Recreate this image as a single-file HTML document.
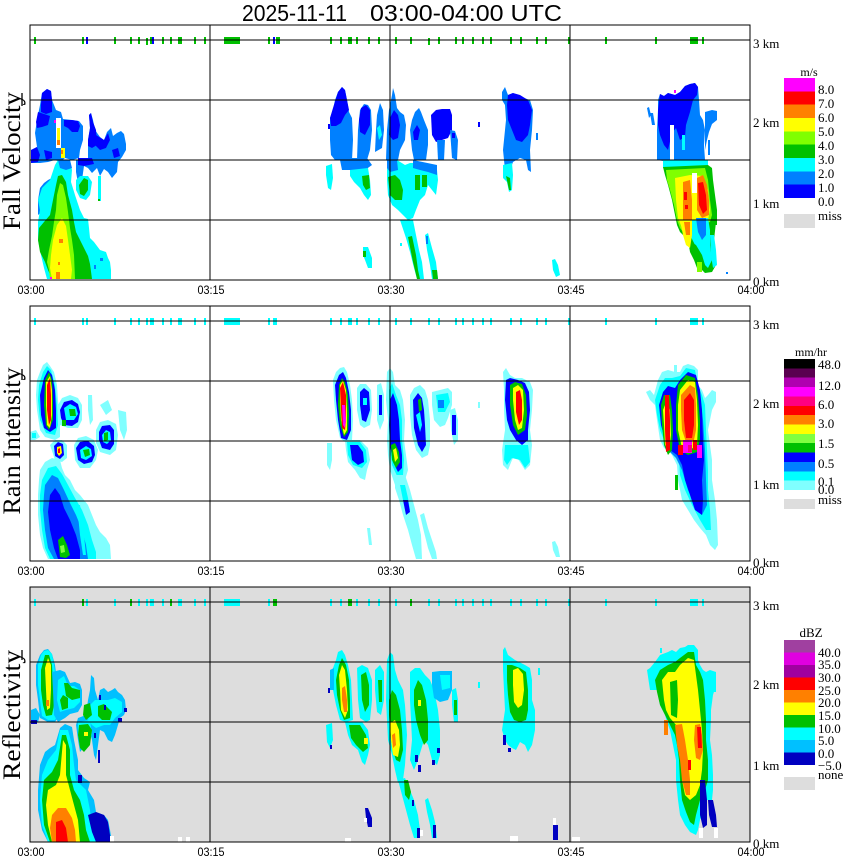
<!DOCTYPE html>
<html><head><meta charset="utf-8"><style>
html,body{margin:0;padding:0;background:#fff;}
svg{display:block;}
.s{font-family:"Liberation Serif",serif;}
.a{font-family:"Liberation Sans",sans-serif;}
</style></head><body>
<svg width="850" height="868" viewBox="0 0 850 868" xmlns="http://www.w3.org/2000/svg">
<rect width="850" height="868" fill="#fff"/>
<rect x="30" y="587" width="720" height="255" fill="#dddddd"/>

<!-- ================= PANEL 1 DATA (Fall Velocity) ================= -->
<g>
<polygon fill="#0080ff" points="31,150 37,147 35,133 37,120 40,105 42,93 47,89 51,91 52,100 56,110 61,112 63,119 72,120 79,121 83,126 83,140 80,150 79,158 72,160 65,158 60,162 55,160 48,162 40,163 31,163"/>
<polygon fill="#0080ff" points="88,160 88,140 90,128 89,115 91,113 93,120 95,130 100,137 104,140 107,132 111,128 113,136 117,133 121,131 124,134 126,144 126,150 122,157 118,162 117,172 112,178 108,172 104,169 100,176 97,168 92,173 88,168 84,166 82,180 78,183 76,172 76,160"/>
<polygon fill="#0000ff" points="41,104 42,93 47,89 51,91 52,100 52,112 46,114 41,112"/>
<polygon fill="#0000ff" points="36,122 38,112 44,114 50,116 48,125 42,127 37,128"/>
<polygon fill="#0000ff" points="64,120 72,120 78,121 80,126 78,132 72,132 68,128 64,126"/>
<polygon fill="#0000ff" points="88,140 90,128 89,115 91,113 93,122 96,130 97,145 92,148 88,146"/>
<polygon fill="#0000ff" points="96,135 104,140 108,133 110,140 106,148 100,150 96,146"/>
<polygon fill="#0000ff" points="31,150 37,147 40,155 38,162 31,163"/>
<polygon fill="#0000ff" points="44,150 52,152 52,158 46,160"/>
<polygon fill="#0000ff" points="78,158 92,158 94,164 84,166 78,165"/>
<polygon fill="#0000ff" points="112,150 118,148 120,156 114,158"/>
<rect x="56" y="118" width="5" height="30" fill="#fff"/>
<rect x="57" y="128" width="3" height="12" fill="#ffff00"/>
<rect x="57" y="140" width="3" height="5" fill="#ff8000"/>
<rect x="54" y="120" width="2" height="3" fill="#ff00ff"/>
<rect x="61" y="148" width="4" height="10" fill="#ffff00"/>
<rect x="61" y="150" width="2" height="4" fill="#ff8000"/>
<polygon fill="#0080ff" points="38,200 40,188 44,183 48,180 52,178 56,180 54,200 44,210 38,215"/>
<polygon fill="#00ffff" points="50,180 55,165 58,160 70,160 72,170 71,182 75,195 80,210 84,218 88,219 89,228 90,238 94,242 100,250 106,252 108,258 110,262 111,270 111,279 47,279 44,268 41,255 38,240 38,222 40,210 38,200 42,188"/>
<polygon fill="#0080ff" points="58,160 70,160 72,168 66,170 60,168"/>
<polygon fill="#00c000" points="53,200 56,185 58,176 62,175 66,182 68,195 72,210 74,222 76,232 80,240 84,248 88,256 90,264 92,279 52,279 48,270 45,262 40,252 38,240 39,228 44,222 50,215"/>
<polygon fill="#80ff00" points="57,195 60,183 63,185 66,198 68,212 70,228 72,240 74,255 75,279 50,279 49,270 47,262 49,250 52,236 54,222 56,210"/>
<polygon fill="#ffff00" points="57,225 62,218 66,226 68,240 70,255 72,270 71,279 52,279 50,268 51,255 53,240"/>
<rect x="59" y="239" width="4" height="4" fill="#ff8000"/>
<rect x="56" y="272" width="4" height="7" fill="#ff8000"/>
<rect x="58" y="262" width="2" height="3" fill="#ff8000"/>
<rect x="50" y="277" width="2" height="2" fill="#ff00ff"/>
<rect x="94" y="265" width="2" height="4" fill="#0080ff"/>
<rect x="100" y="258" width="3" height="3" fill="#0080ff"/>
<polygon fill="#00ffff" points="76,180 80,176 88,176 92,182 90,195 86,200 80,198 76,190"/>
<polygon fill="#00c000" points="79,185 84,178 88,180 88,190 84,196 80,194"/>
<rect x="98" y="176" width="3" height="25" fill="#00ffff"/>
<rect x="98" y="199" width="2" height="2" fill="#00c000"/>

<polygon fill="#0080ff" points="330,140 330,118 333,110 335,100 338,92 342,87 345,90 347,100 349,112 352,118 353,140 352,160 350,170 342,170 340,160 335,160 331,155"/>
<polygon fill="#0000ff" points="330,118 333,108 338,92 342,87 345,90 347,100 349,110 345,115 341,123 336,126 331,126"/>
<rect x="328" y="124" width="2" height="5" fill="#0000ff"/>
<polygon fill="#0080ff" points="357,160 358,130 360,110 364,104 368,105 371,110 372,130 370,150 367,160"/>
<polygon fill="#0000ff" points="359,120 361,108 366,105 370,110 370,125 365,135 360,132"/>
<polygon fill="#0080ff" points="375,152 376,130 377,115 380,103 383,110 384,130 382,148"/>
<polygon fill="#00ffff" points="377,128 380,125 382,135 379,140"/>
<polygon fill="#0080ff" points="386,160 387,130 389,110 392,95 393,88 395,95 397,108 400,112 404,115 406,125 405,140 400,150 398,160 392,165"/>
<polygon fill="#0000ff" points="390,118 394,110 398,115 400,125 398,138 393,140 389,135"/>
<polygon fill="#0080ff" points="410,130 412,120 415,112 419,108 421,112 424,120 428,130 428,145 426,160 414,160 412,150"/>
<polygon fill="#0000ff" points="413,132 417,125 420,130 418,140 414,140"/>
<polygon fill="#0000ff" points="431,115 436,110 442,109 450,109 452,115 452,130 448,138 442,140 436,142 432,135"/>
<polygon fill="#0080ff" points="437,140 445,140 444,160 438,160"/>
<polygon fill="#0080ff" points="450,130 455,131 458,140 457,160 452,158"/>
<rect x="452" y="133" width="3" height="5" fill="#0000ff"/>
<polygon fill="#0080ff" points="341,158 367,158 372,165 365,170 345,170"/>
<polygon fill="#00ffff" points="326,166 332,164 333,178 331,190 328,188 326,175"/>
<polygon fill="#00ffff" points="350,170 368,168 370,180 371,195 368,200 364,195 360,188 354,182 350,176"/>
<polygon fill="#00c000" points="362,176 369,175 370,188 366,190 363,185"/>
<polygon fill="#00ffff" points="387,160 397,160 405,165 410,163 420,163 430,165 437,170 438,180 436,195 432,190 428,185 425,195 420,200 416,210 413,218 408,220 403,215 398,210 392,205 388,195 387,180"/>
<polygon fill="#0080ff" points="387,160 397,160 398,170 390,172 387,168"/>
<polygon fill="#0080ff" points="413,160 437,165 437,175 428,172 420,170 413,168"/>
<polygon fill="#00c000" points="388,177 395,175 400,180 403,190 402,200 395,200 390,195"/>
<polygon fill="#00c000" points="415,175 420,175 420,190 415,190"/>
<polygon fill="#00c000" points="422,175 427,175 427,187 422,187"/>
<polygon fill="#00ffff" points="400,220 413,220 416,235 419,250 422,262 424,279 417,279 414,268 410,252 406,238"/>
<polygon fill="#00c000" points="408,237 412,236 416,255 418,270 420,279 417,279 413,262"/>
<polygon fill="#00ffff" points="425,235 428,233 432,248 436,262 438,279 432,279 430,265 427,250"/>
<polygon fill="#00c000" points="432,270 437,270 438,279 433,279"/>
<rect x="426" y="236" width="2" height="8" fill="#0080ff"/>
<polygon fill="#00ffff" points="363,247 368,247 372,258 372,268 368,268 365,260 363,255"/>
<rect x="363" y="251" width="3" height="6" fill="#00c000"/>
<rect x="400" y="243" width="2" height="3" fill="#00ffff"/>
<polygon fill="#0080ff" points="502,92 505,87 508,95 513,93 517,96 524,98 530,100 533,110 532,130 530,150 531,172 528,170 526,160 520,158 513,162 510,170 505,170 503,150 506,120 505,105 502,100"/>
<polygon fill="#0000ff" points="508,95 513,93 520,95 528,100 532,110 530,125 528,135 522,142 516,140 512,130 508,120 507,105"/>
<polygon fill="#00ffff" points="503,165 512,163 513,175 512,190 509,192 507,182 503,178"/>
<polygon fill="#00c000" points="506,176 510,178 511,190 509,190"/>
<rect x="536" y="133" width="2" height="7" fill="#0080ff"/>
<rect x="478" y="122" width="2" height="5" fill="#0000ff"/>
<polygon fill="#00ffff" points="552,260 555,259 558,265 560,275 556,277 553,270"/>

<polygon fill="#0080ff" points="657,160 657,130 658,110 658,100 660,94 664,96 668,93 675,95 680,92 685,86 690,84 695,83 698,87 699,100 700,115 703,120 705,130 704,145 705,160 700,162 670,162"/>
<polygon fill="#0000ff" points="658,110 660,94 664,96 668,93 675,95 680,92 685,86 690,84 695,83 698,87 697,95 693,100 690,112 686,125 685,137 680,140 676,128 672,133 668,150 664,145 660,135 658,125"/>
<polygon fill="#0080ff" points="647,108 649,107 651,115 649,118"/>
<polygon fill="#0080ff" points="650,113 653,113 655,125 652,125"/>
<polygon fill="#0080ff" points="705,112 712,110 717,111 717,120 712,124 709,132 707,140 705,150"/>
<polygon fill="#0080ff" points="708,140 710,140 710,155 708,155"/>
<rect x="682" y="135" width="3" height="15" fill="#00ffff"/>
<rect x="670" y="125" width="4" height="35" fill="#fff"/>
<rect x="674" y="90" width="2" height="3" fill="#ff00ff"/>
<polygon fill="#00ffff" points="663,160 708,160 708,167 700,170 668,170 663,168"/>
<polygon fill="#00c000" points="663,167 708,165 712,168 713,180 715,195 717,210 716,222 714,240 714,255 716,265 712,272 705,273 700,268 696,258 692,250 688,243 684,236 680,232 677,225 675,215 672,200 668,185 665,175"/>
<polygon fill="#80ff00" points="666,170 705,168 708,180 710,200 712,215 710,222 700,225 690,240 685,235 680,228 677,220 674,205 670,190 667,180"/>
<polygon fill="#ffff00" points="675,178 690,175 703,176 708,190 710,210 708,220 695,222 690,240 685,238 682,228 678,218 676,200"/>
<rect x="692" y="173" width="5" height="20" fill="#fff"/>
<polygon fill="#ff8000" points="683,182 690,180 692,200 692,222 690,236 686,236 683,222"/>
<polygon fill="#ff8000" points="697,178 703,175 707,185 709,200 709,215 702,218 697,210"/>
<polygon fill="#ff0000" points="698,183 703,182 706,195 707,210 703,214 699,205"/>
<rect x="684" y="192" width="3" height="8" fill="#ff0000"/>
<rect x="685" y="205" width="3" height="4" fill="#ff0000"/>
<polygon fill="#00ffff" points="690,220 708,218 710,230 710,245 712,260 708,268 705,265 700,255 695,245 690,235"/>
<polygon fill="#0080ff" points="696,218 706,218 706,235 702,240 698,232"/>
<polygon fill="#00c000" points="688,240 696,245 702,255 705,265 700,270 697,268 694,260 690,252"/>
<polygon fill="#ffff00" points="680,220 692,220 692,235 690,248 686,245 683,235"/>
<polygon fill="#ff8000" points="684,222 690,222 690,235 686,235"/>
<polygon fill="#00ffff" points="710,235 714,235 716,250 717,265 713,268 711,255"/>
<rect x="712" y="210" width="5" height="15" fill="#00c000"/>
<rect x="697" y="262" width="5" height="10" fill="#80ff00"/>
<rect x="726" y="272" width="2" height="2" fill="#0080ff"/>
</g>

<!-- ================= PANEL 2 DATA (Rain Intensity) ================= -->
<g>
<polygon fill="#80ffff" points="37,380 40,372 43,365 47,362 50,366 54,372 57,385 58,400 60,420 60,437 55,440 45,437 40,430 37,410 36,395"/>
<polygon fill="#00ffff" points="39,385 43,372 47,366 51,370 55,385 57,405 58,425 55,435 46,433 40,420 38,400"/>
<polygon fill="#0000ff" points="40,395 44,378 48,370 52,375 55,390 56,410 56,428 50,432 44,428 41,415"/>
<polygon fill="#00c000" points="45,380 49,372 52,380 53,400 53,420 49,430 46,425 44,405"/>
<polygon fill="#ffff00" points="46,382 50,376 52,390 52,415 50,428 47,425 46,405"/>
<polygon fill="#ff0000" points="47,385 50,378 51,395 51,420 49,425 47,410"/>
<polygon fill="#80ffff" points="58,405 62,398 70,395 78,398 82,405 82,420 78,428 68,428 60,425"/>
<polygon fill="#0000ff" points="60,410 64,402 72,400 78,404 80,412 78,422 72,426 64,425 61,418"/>
<polygon fill="#00ffff" points="64,408 70,404 76,407 78,414 74,420 66,420"/>
<polygon fill="#00c000" points="69,409 75,409 76,416 70,416"/>
<rect x="62" y="420" width="4" height="6" fill="#00c000"/>
<polygon fill="#80ffff" points="74,445 78,438 86,436 94,440 98,450 96,460 90,468 80,468 75,460"/>
<polygon fill="#0000ff" points="76,448 80,442 88,441 94,446 95,455 92,462 84,464 78,460"/>
<polygon fill="#00ffff" points="80,450 86,446 91,449 92,456 86,460 81,458"/>
<polygon fill="#00c000" points="83,450 89,449 90,455 85,457"/>
<polygon fill="#80ffff" points="96,430 100,422 108,420 116,424 118,435 116,450 110,455 100,452 96,443"/>
<polygon fill="#0000ff" points="99,432 102,426 110,425 114,430 114,444 110,450 102,448 99,440"/>
<polygon fill="#00ffff" points="102,435 106,430 110,432 111,440 107,444 103,442"/>
<polygon fill="#00c000" points="104,433 108,432 108,440 104,441"/>
<polygon fill="#80ffff" points="50,445 55,440 62,440 67,445 67,458 62,462 55,460"/>
<polygon fill="#0000ff" points="54,446 58,442 63,444 64,455 60,459 55,456"/>
<polygon fill="#ffff00" points="57,447 61,446 62,453 59,456 57,453"/>
<polygon fill="#ff0000" points="58,449 60,448 60,453 58,453"/>
<polygon fill="#80ffff" points="88,395 92,395 93,420 90,425 88,410"/>
<polygon fill="#80ffff" points="100,405 108,400 112,410 106,415"/>
<polygon fill="#80ffff" points="118,410 126,412 127,430 124,440 120,430"/>
<polygon fill="#80ffff" points="30,432 36,430 40,437 35,440 30,440"/>
<rect x="32" y="433" width="4" height="5" fill="#00ffff"/>
<polygon fill="#80ffff" points="40,470 45,462 52,458 60,460 62,468 65,475 70,480 75,490 80,495 88,505 92,515 96,525 100,532 106,538 110,545 111,559 48,559 43,548 40,535 38,515 38,495 39,480"/>
<polygon fill="#00ffff" points="42,480 48,468 56,466 62,474 68,485 75,498 82,510 88,525 92,540 96,552 96,559 50,559 45,548 42,530 40,510 40,495"/>
<polygon fill="#0080ff" points="45,485 52,475 58,478 64,490 70,503 76,515 82,530 86,545 88,559 54,559 48,548 45,530 43,510 44,495"/>
<polygon fill="#0000ff" points="50,495 55,488 60,495 64,508 70,520 76,535 80,550 80,559 58,559 54,548 50,530 48,512"/>
<polygon fill="#00c000" points="58,540 63,536 67,545 70,555 66,558 60,557"/>
<polygon fill="#80ff40" points="60,546 64,545 65,552 61,553"/>
<polygon fill="#00ffff" points="77,505 80,505 84,535 86,555 83,555 80,535"/>

<polygon fill="#80ffff" points="333,380 336,372 340,368 344,367 347,372 350,385 352,400 353,420 352,440 345,442 340,438 336,420 334,400"/>
<polygon fill="#0000ff" points="335,385 339,375 343,372 346,378 349,392 351,410 351,430 347,440 341,438 338,420 336,400"/>
<polygon fill="#00c000" points="339,385 342,378 345,382 348,395 349,415 348,432 344,437 340,425 338,405"/>
<polygon fill="#ffff00" points="340,385 343,380 346,390 347,410 347,430 344,435 341,420 340,400"/>
<polygon fill="#ff0000" points="340,388 343,382 346,395 346,420 345,430 342,428 341,410"/>
<polygon fill="#ff00ff" points="342,405 345,405 346,420 345,428 343,425"/>
<polygon fill="#80ffff" points="345,440 360,440 368,448 370,460 367,470 365,480 360,478 355,470 348,462 346,450"/>
<polygon fill="#00ffff" points="347,442 360,442 366,450 367,462 362,468 353,465 348,455"/>
<polygon fill="#0000ff" points="350,445 358,445 363,452 364,462 358,465 352,460"/>
<polygon fill="#80ffff" points="327,443 332,443 332,460 330,470 327,465"/>
<polygon fill="#80ffff" points="357,388 360,384 366,384 371,390 372,410 370,425 364,428 360,425 357,410"/>
<polygon fill="#0000ff" points="360,392 364,388 369,392 370,410 366,422 362,420 360,405"/>
<rect x="363" y="398" width="4" height="7" fill="#00ffff"/>
<polygon fill="#80ffff" points="377,385 381,383 384,395 384,420 380,430 377,420"/>
<polygon fill="#0000ff" points="379,395 382,395 382,415 379,415"/>
<polygon fill="#80ffff" points="387,372 390,368 393,372 395,385 400,390 403,400 405,420 404,440 406,455 408,470 405,480 400,490 395,485 390,470 388,455 387,440 388,420 386,400"/>
<polygon fill="#00ffff" points="389,390 392,383 396,395 400,405 402,420 402,440 404,460 403,475 398,478 392,465 390,450 389,430"/>
<polygon fill="#0000ff" points="390,400 393,393 397,405 399,420 400,440 402,455 402,468 398,472 393,462 390,445 389,425"/>
<polygon fill="#00c000" points="391,445 395,443 399,452 400,462 396,468 392,460"/>
<polygon fill="#ffff00" points="393,450 396,448 398,458 395,462"/>
<polygon fill="#80ffff" points="395,475 405,475 410,490 414,505 418,520 421,535 422,559 416,559 412,545 408,530 403,515 399,500 395,488"/>
<polygon fill="#00ffff" points="400,485 405,485 408,498 410,510 407,512 403,500"/>
<polygon fill="#0000ff" points="403,500 408,500 410,512 406,515"/>
<polygon fill="#80ffff" points="410,395 414,388 420,385 425,390 428,400 430,420 430,445 428,455 422,458 416,450 412,435 410,415"/>
<polygon fill="#0000ff" points="413,400 418,393 422,398 424,410 425,425 426,445 422,452 418,445 414,428"/>
<polygon fill="#00ffff" points="416,415 420,412 422,425 420,432"/>
<polygon fill="#00c000" points="418,400 421,398 422,410 419,412"/>
<polygon fill="#80ffff" points="432,392 440,390 448,388 452,392 452,405 448,418 445,425 440,427 434,420 432,405"/>
<polygon fill="#00ffff" points="436,395 448,393 450,402 445,412 438,412"/>
<rect x="438" y="400" width="6" height="8" fill="#0080ff"/>
<polygon fill="#80ffff" points="450,410 455,408 458,420 458,440 454,445 451,430"/>
<polygon fill="#0000ff" points="452,415 456,415 456,435 452,435"/>
<polygon fill="#80ffff" points="420,515 424,513 428,528 432,540 436,552 437,559 432,559 428,548 424,532"/>
<polygon fill="#80ffff" points="367,528 370,528 372,545 369,545"/>
<polygon fill="#80ffff" points="503,372 506,368 510,375 515,378 522,378 530,382 533,390 532,410 530,430 532,445 530,465 525,470 520,462 515,455 512,460 508,470 503,465 502,450 505,430 504,410 504,390"/>
<polygon fill="#0000ff" points="506,380 510,378 518,380 525,383 529,392 530,410 528,430 528,440 522,445 516,440 510,430 507,420 505,400"/>
<polygon fill="#00c000" points="510,385 515,382 522,384 526,395 527,415 525,430 518,435 513,425 510,405"/>
<polygon fill="#ffff00" points="513,388 518,385 523,390 524,410 522,428 518,430 515,420 513,400"/>
<polygon fill="#ff0000" points="516,392 520,390 522,400 522,420 519,425 516,412"/>
<polygon fill="#00ffff" points="505,445 528,445 530,462 525,468 520,460 512,458 507,465 504,460"/>
<rect x="478" y="402" width="2" height="6" fill="#80ffff"/>
<polygon fill="#80ffff" points="552,542 555,541 558,547 560,557 556,557 553,550"/>

<polygon fill="#80ffff" points="646,392 650,390 654,395 658,380 662,372 668,370 675,372 680,372 683,366 688,364 694,366 698,370 698,385 702,390 705,398 708,395 712,390 716,392 716,402 712,410 710,420 708,430 710,445 712,460 712,480 715,500 717,520 718,545 715,550 710,545 706,535 700,528 694,520 688,510 682,500 678,480 677,465 672,455 668,450 664,448 660,440 657,420 655,405 650,400"/>
<polygon fill="#00ffff" points="655,400 660,385 665,378 672,378 680,376 686,368 695,370 698,385 702,395 705,405 706,430 707,450 708,470 708,490 710,510 711,530 706,530 700,520 692,505 685,490 680,475 679,460 672,452 666,445 660,430 657,415"/>
<polygon fill="#0080ff" points="662,405 667,392 676,390 684,378 694,378 700,395 703,420 705,450 706,480 707,505 702,515 695,505 688,490 682,470 676,458 668,450 663,430"/>
<polygon fill="#0000ff" points="659,405 663,392 668,386 675,388 680,380 688,372 696,375 700,390 702,410 703,440 704,460 702,480 703,500 702,515 695,510 690,495 685,480 682,465 677,455 670,450 665,440 661,425"/>
<polygon fill="#00c000" points="661,405 664,395 670,395 672,410 673,430 672,450 668,455 664,445 662,425"/>
<polygon fill="#00c000" points="678,385 686,375 695,378 698,395 700,420 700,440 697,452 688,455 680,450 676,430 676,405"/>
<polygon fill="#ffff00" points="663,410 667,400 670,410 671,435 669,450 665,445 664,425"/>
<polygon fill="#ffff00" points="680,390 688,380 695,382 697,400 698,425 697,445 690,450 682,448 678,430 678,405"/>
<polygon fill="#ff8000" points="681,395 690,385 695,388 696,405 696,430 694,440 686,442 682,430 681,410"/>
<polygon fill="#ff0000" points="665,395 669,395 670,420 670,450 666,452 665,430"/>
<polygon fill="#ff0000" points="684,400 690,393 694,400 694,425 692,438 686,438 684,420"/>
<rect x="683" y="440" width="9" height="13" fill="#ff00ff"/>
<rect x="697" y="445" width="5" height="13" fill="#ff00ff"/>
<rect x="678" y="445" width="5" height="10" fill="#ff0000"/>
<rect x="693" y="440" width="4" height="10" fill="#ff0000"/>
<rect x="688" y="445" width="4" height="7" fill="#ff0080"/>
<rect x="675" y="475" width="3" height="15" fill="#00c000"/>
<rect x="674" y="365" width="3" height="8" fill="#80ffff"/>
</g>

<!-- ================= PANEL 3 DATA (Reflectivity) ================= -->
<g>
<polygon fill="#00c0ff" points="36,665 40,655 44,650 48,649 52,654 55,665 57,680 58,700 59,716 55,722 48,722 40,718 38,700 36,685"/>
<polygon fill="#00ffff" points="38,665 41,655 44,651 48,650 52,654 54,665 56,680 57,700 58,715 55,720 48,720 42,716 40,700 38,685"/>
<polygon fill="#00c000" points="41,670 45,655 49,655 52,665 53,685 54,705 52,715 46,716 43,705 41,690"/>
<polygon fill="#ffff00" points="45,668 48,658 51,665 51,690 50,708 47,710 46,690"/>
<rect x="46" y="700" width="3" height="6" fill="#ff8000"/>
<polygon fill="#00c0ff" points="52,672 60,670 65,672 70,683 75,682 80,684 82,690 82,705 78,712 70,714 65,718 58,722 54,715 53,690"/>
<polygon fill="#00ffff" points="58,680 64,676 68,686 74,686 80,690 80,702 74,708 66,710 60,712 57,700"/>
<polygon fill="#00c000" points="60,700 63,695 68,698 68,708 62,710"/>
<polygon fill="#00c000" points="64,683 68,683 72,688 80,690 80,698 72,700 66,696"/>
<polygon fill="#00c0ff" points="31,710 36,708 40,715 38,722 31,723"/>
<rect x="31" y="720" width="6" height="4" fill="#0000c0"/>
<polygon fill="#00c0ff" points="88,700 90,690 91,675 94,678 95,690 98,700 100,690 104,688 108,692 112,690 115,688 118,692 122,695 125,700 126,710 124,715 120,718 118,725 115,735 112,742 108,740 104,732 100,730 98,745 96,760 94,755 92,740 90,732 86,745 80,752 78,740 76,725 78,718 86,715"/>
<polygon fill="#00ffff" points="90,705 95,700 100,700 108,700 115,698 122,702 122,712 115,718 110,725 104,725 96,728 92,725 88,720"/>
<polygon fill="#00ffff" points="78,722 90,720 92,735 85,748 80,748 78,735"/>
<polygon fill="#00c000" points="98,706 104,704 108,708 112,712 110,720 102,720 98,716"/>
<polygon fill="#00c000" points="84,705 90,703 92,715 86,720 83,715"/>
<polygon fill="#00c000" points="79,725 88,724 92,730 90,745 84,752 80,748 78,735"/>
<rect x="84" y="732" width="4" height="4" fill="#ffff00"/>
<rect x="99" y="695" width="2" height="5" fill="#0000c0"/>
<rect x="104" y="705" width="2" height="5" fill="#0000c0"/>
<rect x="118" y="718" width="4" height="4" fill="#0000c0"/>
<rect x="98" y="750" width="2" height="13" fill="#0000c0"/>
<rect x="94" y="733" width="2" height="5" fill="#0000c0"/>
<rect x="124" y="708" width="3" height="4" fill="#0000c0"/>
<polygon fill="#00c0ff" points="55,745 60,728 65,724 72,727 74,740 78,760 78,770 84,778 90,782 88,790 94,800 96,812 104,815 108,820 110,830 112,842 48,842 42,830 38,810 38,790 40,765 45,752 50,748"/>
<polygon fill="#00ffff" points="56,750 60,730 68,730 72,745 74,765 76,780 86,790 90,810 92,830 96,842 48,842 42,825 40,800 42,775 48,760"/>
<polygon fill="#00c000" points="58,760 62,735 66,735 70,750 70,775 74,790 80,800 84,815 86,830 90,842 50,842 44,825 42,800 44,780 52,772"/>
<polygon fill="#ffff00" points="60,775 63,740 66,745 66,775 70,790 74,805 78,820 80,842 52,842 48,825 46,805 48,790 56,785"/>
<polygon fill="#ff8000" points="52,815 58,808 66,808 72,818 75,830 76,842 52,842 50,828"/>
<polygon fill="#ff0000" points="56,822 62,820 66,828 68,842 56,842"/>
<polygon fill="#0000c0" points="88,815 96,812 104,815 108,822 110,835 112,842 96,842 92,832"/>
<rect x="78" y="775" width="4" height="8" fill="#0000c0"/>
<rect x="110" y="836" width="4" height="6" fill="#fff"/>
<rect x="178" y="837" width="4" height="5" fill="#fff"/>
<rect x="186" y="837" width="4" height="5" fill="#fff"/>

<polygon fill="#00ffff" points="330,680 333,668 336,660 338,652 342,650 345,655 348,665 351,680 352,700 353,720 346,722 340,720 336,705 333,690"/>
<polygon fill="#00c0ff" points="330,670 334,668 334,690 330,690"/>
<polygon fill="#00c000" points="336,680 339,665 342,658 346,665 349,680 350,700 350,718 344,720 340,710 337,695"/>
<polygon fill="#ffff00" points="339,675 342,665 345,670 347,690 348,710 345,718 341,710 340,690"/>
<polygon fill="#ff8000" points="342,688 345,686 347,700 347,712 344,712 342,700"/>
<rect x="328" y="688" width="2" height="5" fill="#0000c0"/>
<polygon fill="#00ffff" points="345,722 362,722 368,730 370,745 368,755 365,765 362,762 358,750 352,745 348,735"/>
<polygon fill="#00c000" points="349,725 360,725 366,735 368,748 363,752 356,745 351,738"/>
<rect x="364" y="738" width="4" height="6" fill="#ffff00"/>
<polygon fill="#00ffff" points="326,725 332,723 333,740 330,748 327,742"/>
<rect x="330" y="745" width="2" height="4" fill="#0000c0"/>
<polygon fill="#00ffff" points="357,668 362,665 368,668 372,680 372,700 370,720 366,722 360,718 358,700"/>
<polygon fill="#00c000" points="361,675 366,672 369,685 369,705 365,712 362,700"/>
<polygon fill="#00ffff" points="375,670 380,665 384,672 384,700 381,715 377,712 375,690"/>
<polygon fill="#00c000" points="378,680 382,680 382,702 379,702"/>
<polygon fill="#00ffff" points="387,660 390,652 393,655 395,670 398,680 403,690 405,705 406,720 407,735 406,750 405,765 403,780 398,783 395,770 392,755 388,740 387,720 386,700"/>
<polygon fill="#00c000" points="389,700 392,690 396,695 400,710 402,730 403,750 400,762 396,760 392,748 390,730 389,715"/>
<polygon fill="#ffff00" points="390,723 395,720 399,730 400,745 398,757 393,755 391,740"/>
<polygon fill="#ff8000" points="392,735 395,733 396,745 393,748"/>
<polygon fill="#00ffff" points="398,780 405,778 410,790 414,800 418,815 420,830 420,838 414,838 410,825 406,810 402,795"/>
<polygon fill="#00c000" points="404,780 408,780 411,792 409,800 405,795"/>
<rect x="417" y="828" width="3" height="10" fill="#0000c0"/>
<rect x="412" y="800" width="2" height="6" fill="#0000c0"/>
<polygon fill="#00ffff" points="425,800 428,798 432,810 435,822 437,838 432,838 430,825 427,812"/>
<rect x="433" y="825" width="3" height="13" fill="#0000c0"/>
<polygon fill="#00ffff" points="410,672 415,668 420,668 425,675 430,680 434,690 438,710 440,730 440,755 437,765 432,760 428,745 424,740 418,760 414,770 410,760 412,740 411,720 410,700"/>
<polygon fill="#00c000" points="414,690 418,680 422,685 426,700 428,720 428,740 424,745 420,735 416,720 414,705"/>
<rect x="418" y="700" width="3" height="6" fill="#ffff00"/>
<rect x="415" y="755" width="3" height="7" fill="#0000c0"/>
<rect x="437" y="748" width="3" height="5" fill="#0000c0"/>
<rect x="432" y="760" width="3" height="5" fill="#0000c0"/>
<rect x="418" y="765" width="3" height="7" fill="#0000c0"/>
<polygon fill="#00c0ff" points="432,672 440,671 452,671 452,690 448,700 440,702 434,698 432,685"/>
<polygon fill="#00ffff" points="440,675 450,675 450,688 442,690"/>
<polygon fill="#00ffff" points="452,690 456,688 458,700 458,722 454,722 452,705"/>
<polygon fill="#00c000" points="454,700 457,700 457,715 454,715"/>
<rect x="478" y="682" width="2" height="6" fill="#00ffff"/>
<polygon fill="#00ffff" points="503,650 505,647 508,655 515,660 525,665 530,668 532,680 532,700 535,710 535,730 532,745 528,752 525,745 520,742 516,750 512,748 508,745 505,740 502,730 505,710 504,690 503,670"/>
<polygon fill="#00c000" points="507,665 512,665 520,668 526,672 528,690 528,710 526,720 520,722 514,720 510,712 508,695 507,680"/>
<polygon fill="#ffff00" points="513,670 518,668 523,674 524,690 522,705 518,708 514,702 513,685"/>
<rect x="503" y="735" width="3" height="10" fill="#0000c0"/>
<rect x="508" y="748" width="3" height="4" fill="#0000c0"/>
<rect x="538" y="668" width="2" height="7" fill="#00ffff"/>
<polygon fill="#0000c0" points="365,808 368,808 372,818 372,827 368,827 366,818"/>
<rect x="364" y="818" width="3" height="4" fill="#fff"/>
<rect x="553" y="825" width="5" height="15" fill="#0000c0"/>
<rect x="553" y="818" width="3" height="7" fill="#fff"/>
<rect x="345" y="838" width="6" height="4" fill="#fff"/>
<rect x="510" y="836" width="8" height="6" fill="#fff"/>
<rect x="572" y="837" width="8" height="5" fill="#fff"/>
<rect x="420" y="830" width="3" height="6" fill="#fff"/>

<polygon fill="#00ffff" points="647,670 650,668 655,662 660,655 668,652 672,650 676,652 680,648 685,647 688,645 694,645 698,650 698,660 700,665 703,670 706,672 710,670 716,672 716,685 713,695 711,710 711,720 710,740 712,755 713,775 713,790 712,800 706,800 703,810 700,820 698,830 696,835 690,832 685,825 680,815 678,800 676,780 676,760 673,745 670,730 667,722 665,715 660,705 657,690 650,690"/>
<polygon fill="#00c000" points="655,680 660,670 668,665 675,662 680,658 688,652 694,652 696,665 700,672 703,680 705,700 706,720 706,740 708,760 708,780 705,790 700,800 696,815 694,825 690,822 686,812 682,800 680,780 679,760 677,745 675,735 670,725 665,715 660,705 657,692"/>
<polygon fill="#ffff00" points="662,680 668,672 675,672 680,665 688,658 694,660 696,675 698,690 700,710 702,730 703,750 702,770 700,785 696,795 690,800 685,795 682,780 682,760 680,740 676,725 670,718 666,710 664,700"/>
<polygon fill="#00c000" points="670,682 677,680 678,700 677,718 671,715"/>
<polygon fill="#ff8000" points="664,720 668,720 668,735 664,735"/>
<polygon fill="#ff8000" points="675,725 682,724 685,740 688,760 690,780 690,795 686,795 682,780 680,760 677,745"/>
<polygon fill="#ff8000" points="695,725 700,724 702,735 703,750 700,760 696,758 694,740"/>
<polygon fill="#ff0000" points="697,727 701,727 702,748 698,748"/>
<polygon fill="#ff0000" points="688,760 691,760 691,770 688,770"/>
<polygon fill="#0000c0" points="700,780 705,780 707,800 707,825 703,828 700,815"/>
<polygon fill="#0000c0" points="708,800 713,800 716,815 717,827 712,827 709,815"/>
<rect x="714" y="828" width="4" height="10" fill="#fff"/>
<rect x="699" y="828" width="4" height="10" fill="#fff"/>
<rect x="660" y="648" width="2" height="5" fill="#00ffff"/>
<rect x="713" y="678" width="3" height="14" fill="#00ffff"/>
</g>

<!-- ================= TOP TICKS ================= -->
<g fill="#00c000">
<rect x="34" y="37" width="2" height="7"/><rect x="82" y="37" width="2" height="7"/><rect x="86" y="37" width="2" height="7" fill="#0000ff"/><rect x="114" y="37" width="2" height="7"/><rect x="130" y="37" width="2" height="7"/><rect x="138" y="37" width="2" height="7"/><rect x="146" y="38" width="2" height="7"/><rect x="150" y="37" width="2" height="7"/><rect x="152" y="37" width="2" height="7" fill="#0000ff"/><rect x="162" y="37" width="2" height="7"/><rect x="170" y="37" width="2" height="7"/><rect x="178" y="37" width="4" height="7"/><rect x="194" y="37" width="2" height="7"/><rect x="204" y="37" width="2" height="7"/><rect x="224" y="37" width="12" height="7"/><rect x="236" y="37" width="4" height="7"/><rect x="268" y="37" width="2" height="7"/><rect x="273" y="37" width="2" height="7" fill="#0000ff"/><rect x="276" y="37" width="2" height="7"/><rect x="278" y="37" width="2" height="7"/>
<rect x="330" y="37" width="2" height="7"/><rect x="340" y="37" width="2" height="7"/><rect x="348" y="37" width="4" height="7"/><rect x="356" y="37" width="2" height="7"/><rect x="368" y="37" width="2" height="7"/><rect x="378" y="37" width="2" height="7"/><rect x="395" y="37" width="2" height="7"/><rect x="410" y="37" width="2" height="7"/><rect x="428" y="38" width="2" height="7"/><rect x="438" y="37" width="2" height="7"/><rect x="455" y="37" width="2" height="7"/><rect x="462" y="37" width="2" height="7"/><rect x="472" y="37" width="2" height="7"/><rect x="482" y="37" width="2" height="7"/><rect x="490" y="37" width="2" height="7"/><rect x="510" y="37" width="2" height="7"/><rect x="520" y="37" width="2" height="7"/><rect x="536" y="37" width="2" height="7"/><rect x="545" y="37" width="2" height="7"/><rect x="568" y="37" width="2" height="7"/><rect x="605" y="37" width="2" height="7"/><rect x="655" y="37" width="2" height="7"/><rect x="690" y="37" width="8" height="7"/><rect x="702" y="37" width="2" height="7"/>
</g>
<g fill="#00ffff">
<rect x="34" y="318" width="2" height="7"/><rect x="82" y="318" width="2" height="7"/><rect x="86" y="318" width="2" height="7"/><rect x="114" y="318" width="2" height="7"/><rect x="130" y="318" width="2" height="7"/><rect x="138" y="318" width="2" height="7"/><rect x="146" y="318" width="2" height="7"/><rect x="150" y="318" width="4" height="7"/><rect x="162" y="318" width="2" height="7"/><rect x="170" y="318" width="2" height="7"/><rect x="178" y="318" width="4" height="7"/><rect x="194" y="318" width="2" height="7"/><rect x="204" y="318" width="2" height="7"/><rect x="224" y="318" width="16" height="7"/><rect x="268" y="318" width="2" height="7"/><rect x="273" y="318" width="4" height="7"/>
<rect x="330" y="318" width="2" height="7"/><rect x="340" y="318" width="2" height="7"/><rect x="348" y="318" width="4" height="7"/><rect x="356" y="318" width="2" height="7"/><rect x="368" y="318" width="2" height="7"/><rect x="378" y="318" width="2" height="7"/><rect x="395" y="318" width="2" height="7"/><rect x="410" y="318" width="2" height="7"/><rect x="428" y="318" width="2" height="7"/><rect x="438" y="318" width="2" height="7"/><rect x="455" y="318" width="2" height="7"/><rect x="462" y="318" width="2" height="7"/><rect x="472" y="318" width="2" height="7"/><rect x="482" y="318" width="2" height="7"/><rect x="490" y="318" width="2" height="7"/><rect x="510" y="318" width="2" height="7"/><rect x="520" y="318" width="2" height="7"/><rect x="536" y="318" width="2" height="7"/><rect x="545" y="318" width="2" height="7"/><rect x="568" y="318" width="2" height="7"/><rect x="605" y="318" width="2" height="7"/><rect x="655" y="318" width="2" height="7"/><rect x="690" y="318" width="8" height="7"/><rect x="702" y="318" width="2" height="7"/>
</g>
<g fill="#00ffff">
<rect x="34" y="599" width="2" height="7"/><rect x="82" y="599" width="2" height="7" fill="#00c000"/><rect x="86" y="599" width="2" height="7"/><rect x="114" y="599" width="2" height="7"/><rect x="130" y="599" width="2" height="7" fill="#00c000"/><rect x="138" y="599" width="2" height="7"/><rect x="146" y="599" width="2" height="7"/><rect x="150" y="599" width="4" height="7"/><rect x="162" y="599" width="2" height="7"/><rect x="170" y="599" width="2" height="7" fill="#00c000"/><rect x="178" y="599" width="4" height="7"/><rect x="194" y="599" width="2" height="7"/><rect x="204" y="599" width="2" height="7"/><rect x="224" y="599" width="16" height="7"/><rect x="268" y="599" width="2" height="7"/><rect x="273" y="599" width="4" height="7" fill="#00c000"/>
<rect x="330" y="599" width="2" height="7"/><rect x="340" y="599" width="2" height="7"/><rect x="348" y="599" width="4" height="7" fill="#00c000"/><rect x="356" y="599" width="2" height="7"/><rect x="368" y="599" width="2" height="7"/><rect x="378" y="599" width="2" height="7"/><rect x="395" y="599" width="2" height="7"/><rect x="410" y="599" width="2" height="7" fill="#00c000"/><rect x="428" y="599" width="2" height="7"/><rect x="438" y="599" width="2" height="7"/><rect x="455" y="599" width="2" height="7"/><rect x="462" y="599" width="2" height="7"/><rect x="472" y="599" width="2" height="7"/><rect x="482" y="599" width="2" height="7"/><rect x="490" y="599" width="2" height="7"/><rect x="510" y="599" width="2" height="7"/><rect x="520" y="599" width="2" height="7"/><rect x="536" y="599" width="2" height="7"/><rect x="545" y="599" width="2" height="7"/><rect x="568" y="599" width="2" height="7"/><rect x="605" y="599" width="2" height="7"/><rect x="655" y="599" width="2" height="7"/><rect x="690" y="599" width="8" height="7"/><rect x="702" y="599" width="2" height="7"/>
</g>

<!-- ================= FRAMES & GRID ================= -->
<g stroke="#000" stroke-width="1.3" fill="none" shape-rendering="crispEdges">
<rect x="30" y="25" width="720" height="255"/>
<line x1="30" y1="40" x2="750" y2="40"/><line x1="30" y1="100" x2="750" y2="100"/><line x1="30" y1="160" x2="750" y2="160"/><line x1="30" y1="220" x2="750" y2="220"/>
<line x1="210" y1="25" x2="210" y2="280"/><line x1="390" y1="25" x2="390" y2="280"/><line x1="570" y1="25" x2="570" y2="280"/>
<rect x="30" y="306" width="720" height="255"/>
<line x1="30" y1="321" x2="750" y2="321"/><line x1="30" y1="381" x2="750" y2="381"/><line x1="30" y1="441" x2="750" y2="441"/><line x1="30" y1="501" x2="750" y2="501"/>
<line x1="210" y1="306" x2="210" y2="561"/><line x1="390" y1="306" x2="390" y2="561"/><line x1="570" y1="306" x2="570" y2="561"/>
<rect x="30" y="587" width="720" height="255"/>
<line x1="30" y1="602" x2="750" y2="602"/><line x1="30" y1="662" x2="750" y2="662"/><line x1="30" y1="722" x2="750" y2="722"/><line x1="30" y1="782" x2="750" y2="782"/>
<line x1="210" y1="587" x2="210" y2="842"/><line x1="390" y1="587" x2="390" y2="842"/><line x1="570" y1="587" x2="570" y2="842"/>
</g>

<!-- ================= TEXT ================= -->
<text class="a" x="242" y="21" font-size="23" textLength="105" lengthAdjust="spacingAndGlyphs" fill="#000">2025-11-11</text>
<text class="a" x="370" y="21" font-size="23" textLength="192" lengthAdjust="spacingAndGlyphs" fill="#000">03:00-04:00 UTC</text>

<text class="s" transform="translate(20,161) rotate(-90)" font-size="25" text-anchor="middle" textLength="138" lengthAdjust="spacingAndGlyphs">Fall Velocity</text>
<text class="s" transform="translate(20,441) rotate(-90)" font-size="25" text-anchor="middle" textLength="147" lengthAdjust="spacingAndGlyphs">Rain Intensity</text>
<text class="s" transform="translate(20,715) rotate(-90)" font-size="25" text-anchor="middle" textLength="130" lengthAdjust="spacingAndGlyphs">Reflectivity</text>
<line x1="22" y1="93" x2="22" y2="106" stroke="#000" stroke-width="1.3"/>
<line x1="22" y1="369" x2="22" y2="380" stroke="#000" stroke-width="1.3"/>
<line x1="22" y1="650" x2="22" y2="660" stroke="#000" stroke-width="1.3"/>

<g class="s" font-size="13" fill="#000">
<text x="753" y="48">3 km</text><text x="753" y="127">2 km</text><text x="753" y="208">1 km</text><text x="753" y="286">0 km</text>
<text x="753" y="329">3 km</text><text x="753" y="408">2 km</text><text x="753" y="489">1 km</text><text x="753" y="567">0 km</text>
<text x="753" y="610">3 km</text><text x="753" y="689">2 km</text><text x="753" y="770">1 km</text><text x="753" y="848">0 km</text>
</g>

<g class="a" font-size="12" fill="#000" text-anchor="middle">
<text x="31" y="294" textLength="27" lengthAdjust="spacingAndGlyphs">03:00</text><text x="211" y="294" textLength="27" lengthAdjust="spacingAndGlyphs">03:15</text><text x="391" y="294" textLength="27" lengthAdjust="spacingAndGlyphs">03:30</text><text x="571" y="294" textLength="27" lengthAdjust="spacingAndGlyphs">03:45</text><text x="751" y="294" textLength="27" lengthAdjust="spacingAndGlyphs">04:00</text>
<text x="31" y="575" textLength="27" lengthAdjust="spacingAndGlyphs">03:00</text><text x="211" y="575" textLength="27" lengthAdjust="spacingAndGlyphs">03:15</text><text x="391" y="575" textLength="27" lengthAdjust="spacingAndGlyphs">03:30</text><text x="571" y="575" textLength="27" lengthAdjust="spacingAndGlyphs">03:45</text><text x="751" y="575" textLength="27" lengthAdjust="spacingAndGlyphs">04:00</text>
<text x="31" y="856" textLength="27" lengthAdjust="spacingAndGlyphs">03:00</text><text x="211" y="856" textLength="27" lengthAdjust="spacingAndGlyphs">03:15</text><text x="391" y="856" textLength="27" lengthAdjust="spacingAndGlyphs">03:30</text><text x="571" y="856" textLength="27" lengthAdjust="spacingAndGlyphs">03:45</text><text x="751" y="856" textLength="27" lengthAdjust="spacingAndGlyphs">04:00</text>
</g>

<!-- ================= LEGENDS ================= -->
<g shape-rendering="crispEdges">
<rect x="784" y="78" width="31" height="13.4" fill="#ff00ff"/>
<rect x="784" y="91.3" width="31" height="13.4" fill="#ff0000"/>
<rect x="784" y="104.7" width="31" height="13.4" fill="#ff8000"/>
<rect x="784" y="118" width="31" height="13.4" fill="#ffff00"/>
<rect x="784" y="131.3" width="31" height="13.4" fill="#80ff00"/>
<rect x="784" y="144.7" width="31" height="13.4" fill="#00c000"/>
<rect x="784" y="158" width="31" height="13.4" fill="#00ffff"/>
<rect x="784" y="171.3" width="31" height="13.4" fill="#0080ff"/>
<rect x="784" y="184.7" width="31" height="13.3" fill="#0000ff"/>
<rect x="784" y="214" width="31" height="14" fill="#dddddd"/>

<rect x="784" y="359" width="31" height="9.5" fill="#000000"/>
<rect x="784" y="368.4" width="31" height="9.5" fill="#5a0050"/>
<rect x="784" y="377.7" width="31" height="9.5" fill="#b000b0"/>
<rect x="784" y="387.1" width="31" height="9.5" fill="#ff00ff"/>
<rect x="784" y="396.4" width="31" height="9.5" fill="#ff0080"/>
<rect x="784" y="405.8" width="31" height="9.5" fill="#ff0000"/>
<rect x="784" y="415.1" width="31" height="9.5" fill="#ff8000"/>
<rect x="784" y="424.5" width="31" height="9.5" fill="#ffff00"/>
<rect x="784" y="433.9" width="31" height="9.5" fill="#80ff40"/>
<rect x="784" y="443.2" width="31" height="9.5" fill="#00c000"/>
<rect x="784" y="452.6" width="31" height="9.5" fill="#0000ff"/>
<rect x="784" y="461.9" width="31" height="9.5" fill="#0080ff"/>
<rect x="784" y="471.3" width="31" height="9.5" fill="#00ffff"/>
<rect x="784" y="480.6" width="31" height="9.4" fill="#80ffff"/>
<rect x="784" y="499" width="31" height="10" fill="#dddddd"/>

<rect x="784" y="640" width="31" height="12.6" fill="#a040a0"/>
<rect x="784" y="652.5" width="31" height="12.6" fill="#e000e0"/>
<rect x="784" y="665" width="31" height="12.6" fill="#a000a0"/>
<rect x="784" y="677.5" width="31" height="12.6" fill="#ff0000"/>
<rect x="784" y="690" width="31" height="12.6" fill="#ff8000"/>
<rect x="784" y="702.5" width="31" height="12.6" fill="#ffff00"/>
<rect x="784" y="715" width="31" height="12.6" fill="#00c000"/>
<rect x="784" y="727.5" width="31" height="12.6" fill="#00ffff"/>
<rect x="784" y="740" width="31" height="12.6" fill="#00c0ff"/>
<rect x="784" y="752.5" width="31" height="12.5" fill="#0000c0"/>
<rect x="784" y="777" width="31" height="13" fill="#dddddd"/>
</g>

<g class="s" font-size="13" fill="#000">
<text x="809" y="76" text-anchor="middle" font-size="12">m/s</text>
<text x="818" y="94">8.0</text><text x="818" y="108">7.0</text><text x="818" y="122">6.0</text><text x="818" y="136">5.0</text><text x="818" y="150">4.0</text><text x="818" y="164">3.0</text><text x="818" y="178">2.0</text><text x="818" y="192">1.0</text><text x="818" y="206">0.0</text>
<text x="818" y="220">miss</text>

<text x="811" y="356" text-anchor="middle" font-size="12">mm/hr</text>
<text x="818" y="369">48.0</text><text x="818" y="390">12.0</text><text x="818" y="409">6.0</text><text x="818" y="428">3.0</text><text x="818" y="448">1.5</text><text x="818" y="468">0.5</text><text x="818" y="486">0.1</text><text x="818" y="494">0.0</text>
<text x="818" y="504">miss</text>

<text x="811" y="637" text-anchor="middle">dBZ</text>
<text x="818" y="657">40.0</text><text x="818" y="669">35.0</text><text x="818" y="682">30.0</text><text x="818" y="695">25.0</text><text x="818" y="707">20.0</text><text x="818" y="720">15.0</text><text x="818" y="733">10.0</text><text x="818" y="745">5.0</text><text x="818" y="758">0.0</text><text x="818" y="770">−5.0</text>
<text x="818" y="779">none</text>
</g>
</svg>
</body></html>
